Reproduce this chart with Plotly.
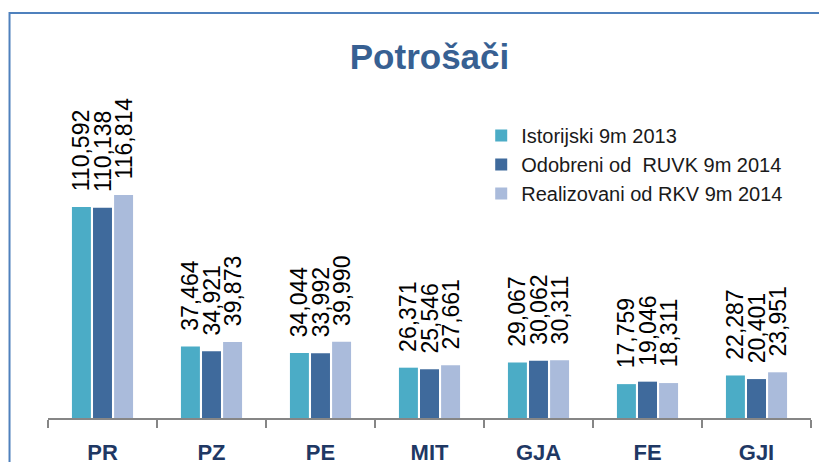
import plotly.graph_objects as go

categories = ["PR", "PZ", "PE", "MIT", "GJA", "FE", "GJI"]
series_names = ["Istorijski 9m 2013", "Odobreni od  RUVK 9m 2014", "Realizovani od RKV 9m 2014"]
istorijski = [110592, 37464, 34044, 26371, 29067, 17759, 22287]
odobreni = [110138, 34921, 33992, 25546, 30062, 19046, 20401]
realizovani = [116814, 39873, 39990, 27661, 30311, 18311, 23951]
colors = ["#4BACC6", "#3F6A9C", "#AABBDB"]

W, H = 819, 454
ml, mr, mt, mb = 39.5, 16, 72, 44
pw, ph = W - ml - mr, H - mt - mb

FONT = "Liberation Sans, Arial, sans-serif"

fig = go.Figure()
for name, vals, col in zip(series_names, [istorijski, odobreni, realizovani], colors):
    fig.add_trace(go.Bar(
        x=categories, y=vals, name=name,
        marker=dict(color=col, line=dict(width=0)),
        texttemplate="\u00a0\u00a0%{y:,}",
        textposition="outside", textangle=-90, constraintext="none",
        cliponaxis=False,
        textfont=dict(family=FONT, size=23, color="#000000"),
    ))

def px_x(p):
    return (p - ml) / pw

def px_y(p):
    return (H - mb - p) / ph

# open frame: left and top edges only (the rest lies outside the picture)
frame_path = "M {:.5f},{:.5f} L {:.5f},{:.5f} L {:.5f},{:.5f}".format(
    px_x(1), px_y(480), px_x(1), px_y(5), px_x(900), px_y(5))
fig.add_shape(type="path", xref="paper", yref="paper", path=frame_path,
              line=dict(color="#4F81BD", width=2), layer="below")

fig.update_layout(
    width=W, height=H,
    margin=dict(l=ml, r=mr, t=mt, b=mb, autoexpand=False),
    paper_bgcolor="white", plot_bgcolor="white",
    barmode="group", bargap=0.42, bargroupgap=0.1,
    title=dict(text="<b>Potrošači</b>", x=0.5, xanchor="center", xref="paper",
               y=1 - 49 / H, yanchor="middle",
               font=dict(family=FONT, size=35, color="#376092")),
    showlegend=True,
    legend=dict(x=px_x(473), y=px_y(108), xanchor="left", yanchor="top",
                font=dict(family=FONT, size=20, color="#1a1a1a"),
                bgcolor="rgba(0,0,0,0)", itemwidth=30, tracegroupgap=0,
                traceorder="normal"),
    xaxis=dict(type="category", tickson="boundaries", ticks="outside", ticklen=8,
               tickcolor="#868686", tickwidth=1.5,
               showline=True, linecolor="#868686", linewidth=1.5,
               showgrid=False, ticklabelstandoff=14,
               tickfont=dict(family=FONT, size=22, color="#1F3864", weight="bold")),
    yaxis=dict(range=[0, ph / 0.001908], visible=False, showgrid=False, zeroline=False),
)

fig.write_html("out.html", config={"displayModeBar": False})
